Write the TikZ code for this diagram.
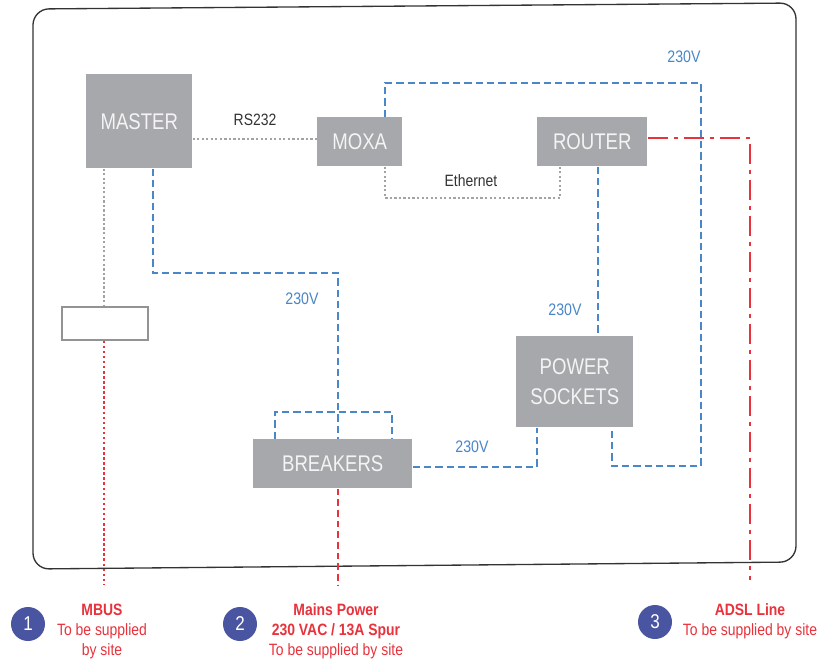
\documentclass[tikz,border=0pt]{standalone}
\usepackage{fontspec}
\setmainfont{Liberation Sans}[FakeStretch=0.82]
\newfontfamily\labelfont{Liberation Sans}[FakeStretch=0.85]
\definecolor{boxgray}{HTML}{A7A8AB}
\definecolor{boxtext}{HTML}{F4F4F4}
\definecolor{pblue}{HTML}{4A86C8}
\definecolor{dotgray}{HTML}{A3A3A3}
\definecolor{pred}{HTML}{E8323C}
\definecolor{circblue}{HTML}{4A55A2}
\definecolor{framegray}{HTML}{333333}
\begin{document}
\begin{tikzpicture}[x=0.75pt,y=-0.75pt,
  devbox/.style={fill=boxgray,inner sep=0pt,text=boxtext,font=\fontsize{17}{20}\selectfont,align=center},
  bluedash/.style={draw=pblue,line width=1.9pt,dash pattern=on 5.5pt off 3pt},
  graydot/.style={draw=dotgray,line width=1.7pt,dash pattern=on 1.7pt off 1.7pt},
  reddot/.style={draw=pred,line width=1.9pt,dash pattern=on 1.9pt off 1.9pt},
  reddash/.style={draw=pred,line width=1.9pt,dash pattern=on 5pt off 3pt},
  reddashdot/.style={draw=pred,line width=1.9pt,dash pattern=on 15pt off 4.5pt on 3pt off 4.5pt},
  bluelbl/.style={text=pblue,font=\labelfont\fontsize{12.5}{14}\selectfont,inner sep=0pt},
  graylbl/.style={text=black!80,font=\labelfont\fontsize{12.3}{14}\selectfont,inner sep=0pt},
  numcirc/.style={circle,fill=circblue,minimum size=25.5pt,inner sep=0pt,text=white,font=\labelfont\fontsize{15}{17}\selectfont},
  legend/.style={text=pred,font=\labelfont\fontsize{12.3}{15}\selectfont,align=center,inner sep=0pt}
]
\useasboundingbox (0,0) rectangle (819,662);
\fill[white] (0,0) rectangle (819,662);
% frame
\draw[framegray,line width=1pt,rounded corners=12pt] (33,9) -- (796,3) -- (796,562) -- (33,569) -- cycle;

% devices
\node[devbox,anchor=north west,minimum width=79.5pt,minimum height=70.5pt] (master) at (86,74) {MASTER};
\node[devbox,anchor=north west,minimum width=63.75pt,minimum height=36.75pt] (moxa) at (317,117) {MOXA};
\node[devbox,anchor=north west,minimum width=82.5pt,minimum height=36.75pt] (router) at (537,117) {ROUTER};
\node[devbox,anchor=north west,minimum width=87.75pt,minimum height=68.25pt,font=\fontsize{17}{22}\selectfont] (sockets) at (516,336) {POWER\\SOCKETS};
\node[devbox,anchor=north west,minimum width=119.25pt,minimum height=36.75pt] (breakers) at (253,439) {BREAKERS};
\node[draw=dotgray!90!black,line width=1.2pt,fill=white,anchor=north west,minimum width=64.5pt,minimum height=24.75pt,inner sep=0pt] (mbusbox) at (61,306) {};

% coordinates
\coordinate (e1) at (385,198);
\coordinate (e2) at (560,198);
\coordinate (t1) at (385,83);
\coordinate (t2) at (701,83);
\coordinate (t3) at (701,466);
\coordinate (t4) at (612,466);
\coordinate (m1) at (153,273);
\coordinate (m2) at (338,273);
\coordinate (b1) at (275,412);
\coordinate (b2) at (392,412);
\coordinate (r1) at (537,467);
\coordinate (a1) at (750,138);
\coordinate (a2) at (750,580);
\coordinate (mb) at (104,585);
\coordinate (bb) at (338,585);

% RS232
\draw[graydot] (master.east |- 0,139) -- (moxa.west |- 0,139);
\node[graylbl] (rslbl) at (255,120) {RS232};
% Ethernet
\draw[graydot] (moxa.south -| e1) -- (e1) -- (e2) -- (router.south -| e2);
\node[graylbl] (ethlbl) at (471,181) {Ethernet};
% MASTER to MBUS box
\draw[graydot] (master.south -| 104,0) -- (mbusbox.north -| 104,0);
\draw[reddot] (mbusbox.south -| 104,0) -- (mb);

% blue power lines
\draw[bluedash] (moxa.north -| t1) -- (t1) -- (t2) -- (t3) -- (t4) -- (sockets.south -| t4);
\node[bluelbl] (v1) at (684,57) {230V};
\draw[bluedash] (router.south -| 598,0) -- (sockets.north -| 598,0);
\node[bluelbl] (v2) at (565,310) {230V};
\draw[bluedash] (master.south -| m1) -- (m1) -- (m2) -- (breakers.north -| m2);
\node[bluelbl] (v3) at (302,299) {230V};
\draw[bluedash] (breakers.north -| b1) -- (b1) -- (b2) -- (breakers.north -| b2);
\draw[bluedash] (breakers.east |- r1) -- (r1) -- (sockets.south -| r1);
\node[bluelbl] (v4) at (472,447) {230V};

% red feeds
\draw[reddash] (breakers.south -| bb) -- (bb);
\draw[reddashdot] (router.east |- a1) -- (a1) -- (a2);

% legend
\node[numcirc] (c1) at (28,624) {1};
\node[numcirc] (c2) at (240,624) {2};
\node[numcirc] (c3) at (655,622) {3};
\node[legend] (l1) at (102,631) {\textbf{MBUS}\\To be supplied\\by site};
\node[legend] (l2) at (336,631) {\textbf{Mains Power}\\\textbf{230 VAC / 13A Spur}\\To be supplied by site};
\node[legend] (l3) at (750,621) {\textbf{ADSL Line}\\To be supplied by site};
\end{tikzpicture}
\end{document}
